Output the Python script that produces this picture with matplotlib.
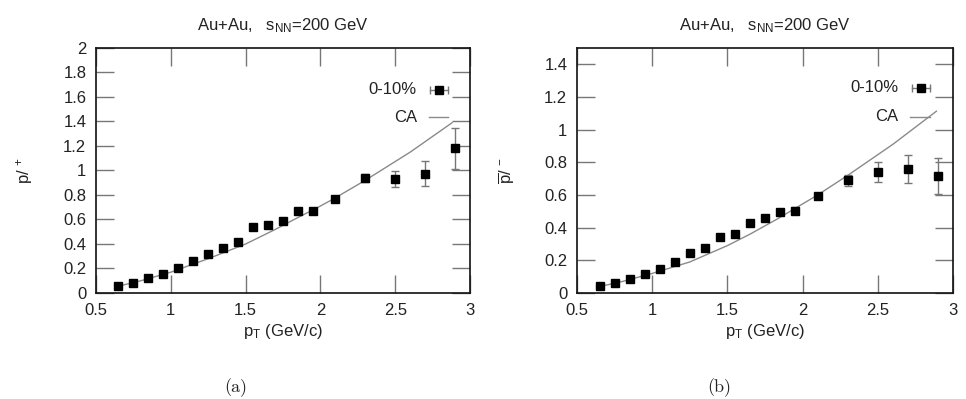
import numpy as np
import matplotlib.pyplot as plt

plt.rcParams['font.family'] = ['Liberation Sans', 'DejaVu Sans']
plt.rcParams['mathtext.fontset'] = 'custom'
plt.rcParams['mathtext.rm'] = 'Liberation Sans'
plt.rcParams['mathtext.it'] = 'Liberation Sans:italic'
plt.rcParams['mathtext.bf'] = 'Liberation Sans:bold'

TXT = '#222222'
FS = 12

# datos: cociente p/pi+ (a) y pbar/pi- (b), centralidad 0-10%
pt = [0.65, 0.75, 0.85, 0.95, 1.05, 1.15, 1.25, 1.35, 1.45, 1.55,
      1.65, 1.75, 1.85, 1.95, 2.10, 2.30, 2.50, 2.70, 2.90]
ratio_a = [0.06, 0.085, 0.12, 0.155, 0.205, 0.265, 0.315, 0.37, 0.415, 0.535,
           0.555, 0.59, 0.67, 0.67, 0.765, 0.94, 0.93, 0.975, 1.18]
err_a = [0.005, 0.005, 0.005, 0.008, 0.008, 0.01, 0.01, 0.01, 0.012, 0.015,
         0.015, 0.018, 0.02, 0.02, 0.02, 0.03, 0.065, 0.10, 0.17]
ratio_b = [0.04, 0.06, 0.085, 0.115, 0.145, 0.19, 0.245, 0.275, 0.345, 0.36,
           0.43, 0.46, 0.495, 0.505, 0.595, 0.69, 0.74, 0.76, 0.715]
err_b = [0.005, 0.005, 0.005, 0.008, 0.008, 0.01, 0.01, 0.01, 0.012, 0.015,
         0.015, 0.018, 0.02, 0.02, 0.02, 0.035, 0.06, 0.085, 0.11]

# curva del modelo CA
ca_pt = [0.63, 0.8, 1.0, 1.25, 1.5, 1.7, 1.84, 2.0, 2.09, 2.3, 2.6, 2.88]
ca_a = [0.05, 0.10, 0.17, 0.28, 0.40, 0.52, 0.61, 0.71, 0.77, 0.92, 1.15, 1.39]
ca_pt_b = [0.63, 0.8, 0.99, 1.25, 1.5, 1.65, 1.83, 2.1, 2.3, 2.6, 2.89]
ca_b = [0.035, 0.07, 0.117, 0.19, 0.29, 0.36, 0.452, 0.60, 0.72, 0.91, 1.113]

paneles = [
    dict(pos=[0.0994, 0.2657, 0.3872, 0.614], y=ratio_a, e=err_a, cx=ca_pt, cy=ca_a,
         ymax=2.0, yt=np.arange(0, 2.01, 0.2), ylab=r'p/ $^{+}$', sub='(a)', subx=0.244,
         leg=(0.858, 0.829, 0.718, 0.917)),
    dict(pos=[0.5973, 0.2657, 0.3892, 0.614], y=ratio_b, e=err_b, cx=ca_pt_b, cy=ca_b,
         ymax=1.5, yt=np.arange(0, 1.41, 0.2), ylab=r'$\overline{\rm p}$/ $^{-}$', sub='(b)',
         subx=0.745, leg=(0.854, 0.837, 0.72, 0.914)),
]

fig = plt.figure(figsize=(9.66, 3.99), dpi=100)

for p in paneles:
    ax = fig.add_axes(p['pos'])
    ax.plot(p['cx'], p['cy'], color='#8a8a8a', lw=1.0)
    ax.errorbar(pt, p['y'], yerr=p['e'], fmt='s', ms=5.5, color='black',
                ecolor='#777777', elinewidth=1.0, capsize=3, capthick=1.0)
    ax.set_xlim(0.5, 3.0)
    ax.set_ylim(0, p['ymax'])
    ax.set_xticks(np.arange(0.5, 3.01, 0.5))
    ax.set_xticklabels(['0.5', '1', '1.5', '2', '2.5', '3'])
    ax.set_yticks(p['yt'])
    ax.set_yticklabels(['%g' % round(v, 1) for v in p['yt']])
    ax.tick_params(direction='in', length=13, width=1.0, color='#777777',
                   top=True, right=True, labelsize=FS, labelcolor=TXT, pad=7)
    for s in ax.spines.values():
        s.set_linewidth(1.2)
        s.set_color('#111111')
    ax.set_xlabel(r'p$_{\rm T}$ (GeV/c)', fontsize=FS, color=TXT, labelpad=3)
    ax.set_ylabel(p['ylab'], fontsize=FS, color=TXT, labelpad=20)
    ax.set_title(r'Au+Au,   s$_{\rm NN}$=200 GeV', fontsize=FS, color=TXT, pad=13)

    # leyenda dibujada a mano
    tx, y1, y2, cx = p['leg']
    ax.text(tx, y1, '0-10%', transform=ax.transAxes, ha='right', va='center',
            fontsize=FS, color=TXT)
    ax.plot([cx - 0.024, cx + 0.024], [y1, y1], transform=ax.transAxes,
            color='#777777', lw=1.0, clip_on=False)
    ax.plot([cx - 0.024, cx + 0.024], [y1, y1], transform=ax.transAxes, ls='none',
            marker='|', ms=6, mew=1.0, color='#777777', clip_on=False)
    ax.plot([cx], [y1], transform=ax.transAxes, marker='s', ms=5.5, color='black',
            clip_on=False)
    ax.text(tx, y2, 'CA', transform=ax.transAxes, ha='right', va='center',
            fontsize=FS, color=TXT)
    ax.plot([cx - 0.028, cx + 0.024], [y2, y2], transform=ax.transAxes,
            color='#8a8a8a', lw=1.0, clip_on=False)

    fig.text(p['subx'], 0.028, p['sub'], ha='center', va='center',
             fontsize=13, family='cmr10', color=TXT)

fig.savefig('out.png', dpi=100)
